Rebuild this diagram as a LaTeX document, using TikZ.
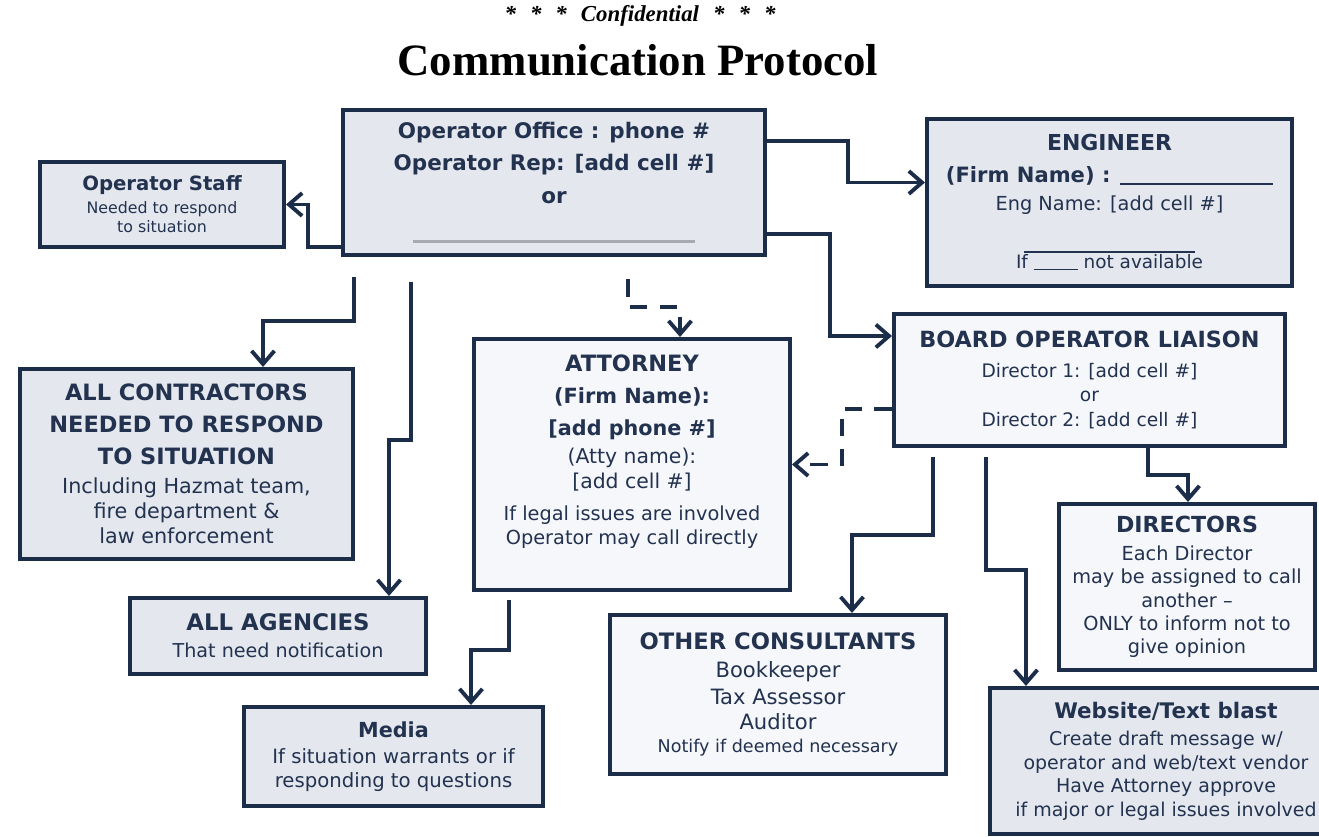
\documentclass[tikz,border=0pt]{standalone}
\usepackage{fontspec}
\setmainfont{Liberation Serif}
\newfontfamily\boxfont{DejaVu Sans}
\usetikzlibrary{arrows.meta,calc}

\definecolor{navy}{HTML}{1C2D4A}
\definecolor{navytext}{HTML}{22324F}
\definecolor{boxfill}{HTML}{E4E8EE}
\definecolor{boxwhite}{HTML}{F5F7FA}
\definecolor{rulegray}{HTML}{A7ABB0}

\tikzset{
  box/.style={draw=navy, line width=2.3pt, fill=boxfill, text=navytext, align=center, inner sep=0pt},
  lightbox/.style={box, fill=boxwhite},
  boxsize/.style 2 args={minimum width=#1*0.02cm, minimum height=#2*0.02cm},
  fsize/.style 2 args={font=\boxfont\fontsize{#1}{#2}\selectfont},
  link/.style={draw=navy, line width=2.2pt, -{Straight Barb[length=7.5pt,width=13pt]}},
  dashlink/.style={link, dash pattern=on 10pt off 7pt},
}

\begin{document}
\begin{tikzpicture}[x=0.02cm, y=-0.02cm]
  \useasboundingbox (0,0) rectangle (1319,837);
  \fill[white] (0,0) rectangle (1319,837);
%Title
  \node (conf) at (640,16)
    {\fontsize{13}{15}\selectfont\bfseries\itshape *\hspace{8pt}*\hspace{8pt}*\hspace{8pt}Confidential\hspace{8pt}*\hspace{8pt}*\hspace{8pt}*};
  \node (title)
    [anchor=base]
    at (638,76)
    {\fontsize{25.5}{30}\selectfont\bfseries Communication Protocol};
%Boxes
  \node (op)
    [box, boxsize={422}{145}, font=\boxfont\bfseries\fontsize{12.2}{18.4}\selectfont]
    at (554,182.5)
    {Operator Office : phone \#\\
     Operator Rep: [add cell \#]\\
     or\\[4.3pt]
     \textcolor{rulegray}{\rule{160pt}{1.6pt}}};
  \node (staff)
    [box, boxsize={244}{85}, fsize={9}{10.8}]
    at (162,204.5)
    {{\bfseries\fontsize{11.2}{13}\selectfont Operator Staff}\\[2.2pt]
     Needed to respond\\
     to situation};
  \node (eng)
    [box, boxsize={365}{167}, fsize={11}{13}]
    at (1109.5,202.5)
    {{\bfseries\fontsize{12.5}{15}\selectfont ENGINEER}\\[5.1pt]
     {\bfseries\fontsize{12}{14}\selectfont (Firm Name) : \rule[-1pt]{87pt}{0.9pt}}\\[2.9pt]
     Eng Name: [add cell \#]\\[10.8pt]
     \rule{97pt}{0.9pt}\\[-3.9pt]
     {\fontsize{10.5}{12}\selectfont If \rule[-1pt]{25pt}{0.8pt} not available}};
  \node (bol)
    [lightbox, boxsize={391}{132}, fsize={10.6}{14.2}]
    at (1089.5,380)
    {{\bfseries\fontsize{12.7}{15}\selectfont BOARD OPERATOR LIAISON}\\[2.8pt]
     Director 1: [add cell \#]\\
     or\\
     Director 2: [add cell \#]};
  \node (att)
    [lightbox, boxsize={316}{251}, fsize={11}{14.2}]
    at (632,464.5)
    {{\bfseries\fontsize{12.8}{15}\selectfont ATTORNEY}\\[3.9pt]
     {\bfseries\fontsize{11.9}{14}\selectfont (Firm Name):}\\[4.5pt]
     {\bfseries\fontsize{11.8}{14}\selectfont [add phone \#]}\\[1.7pt]
     {\fontsize{11.6}{14}\selectfont (Atty name):}\\
     {\fontsize{11.6}{14}\selectfont [add cell \#]}\\[3.9pt]
     If legal issues are involved\\[-0.6pt]
     Operator may call directly\rule[-17pt]{0pt}{17pt}};
  \node (con)
    [box, boxsize={333}{190}, fsize={11.8}{14.2}]
    at (186.5,464)
    {{\bfseries\fontsize{12.8}{15}\selectfont ALL CONTRACTORS}\\[3.9pt]
     {\bfseries\fontsize{12.8}{15}\selectfont NEEDED TO RESPOND}\\[3.9pt]
     {\bfseries\fontsize{12.8}{15}\selectfont TO SITUATION}\\[2.2pt]
     Including Hazmat team,\\[0.5pt]
     fire department \&\\
     law enforcement};
  \node (age)
    [box, boxsize={296}{76}, fsize={10.9}{15.3}]
    at (278,636)
    {{\bfseries\fontsize{13}{15}\selectfont ALL AGENCIES}\\
     That need notification};
  \node (med)
    [box, boxsize={299}{99}, fsize={11.2}{13.6}]
    at (393.5,756.5)
    {{\bfseries\fontsize{11.8}{14}\selectfont Media}\\[1.1pt]
     If situation warrants or if\\
     responding to questions};
  \node (oth)
    [lightbox, boxsize={336}{159}, fsize={10}{13}]
    at (778,694.5)
    {{\bfseries\fontsize{12.9}{15}\selectfont OTHER CONSULTANTS}\\[2.9pt]
     {\fontsize{12}{14}\selectfont Bookkeeper}\\[2.3pt]
     {\fontsize{12}{14}\selectfont Tax Assessor}\\[1.2pt]
     {\fontsize{12}{14}\selectfont Auditor}\\
     Notify if deemed necessary};
  \node (dir)
    [lightbox, boxsize={256}{166}, fsize={11}{13.3}]
    at (1187,587)
    {{\bfseries\fontsize{12.6}{15}\selectfont DIRECTORS}\\[2.6pt]
     Each Director\\
     may be assigned to call\\
     another \textendash\\
     ONLY to inform not to\\
     give opinion};
  \node (web)
    [box, boxsize={352}{146}, fsize={10.8}{13.2}]
    at (1166,761)
    {{\bfseries\fontsize{12.2}{14}\selectfont Website/Text blast}\\[2.7pt]
     Create draft message w/\\
     operator and web/text vendor\\
     Have Attorney approve\\[0.4pt]
     if major or legal issues involved};
%Arrows
  \draw[link] ($(op.south west)+(0,-10)$) -- ++(-33,0) |- (staff.east);
  \draw[link] ($(op.south west)+(13,20)$) -- ++(0,44) -| ($(con.north)+(76.5,0)$);
  \draw[link] ($(op.south west)+(70,25)$) -- ++(0,158) -| ($(age.north)+(111,0)$);
  \draw[dashlink] ($(op.south)+(74,22)$) -- ++(0,28) -| ($(att.north)+(48,0)$);
  \draw[link] ($(op.north east)+(0,33)$) -- ++(81,0) |- ($(eng.west)+(0,-20)$);
  \draw[link] ($(op.south east)+(0,-23)$) -- ++(63,0) |- ($(bol.north west)+(0,24)$);
  \draw[dashlink] ($(bol.south west)+(0,-39)$) -- ++(-50,0) |- (att.east);
  \draw[link] ($(bol.south west)+(41,9)$) -- ++(0,78) -| ($(oth.north)+(74,0)$);
  \draw[link] ($(bol.south west)+(94,9)$) -- ++(0,113) -| ($(web.north west)+(38,0)$);
  \draw[link] ($(bol.south)+(58.5,0)$) -- ++(0,27) -| ($(dir.north)+(1,0)$);
  \draw[link] ($(att.south west)+(37,8)$) -- ++(0,50) -| ($(med.north west)+(229,0)$);
\end{tikzpicture}
\end{document}
